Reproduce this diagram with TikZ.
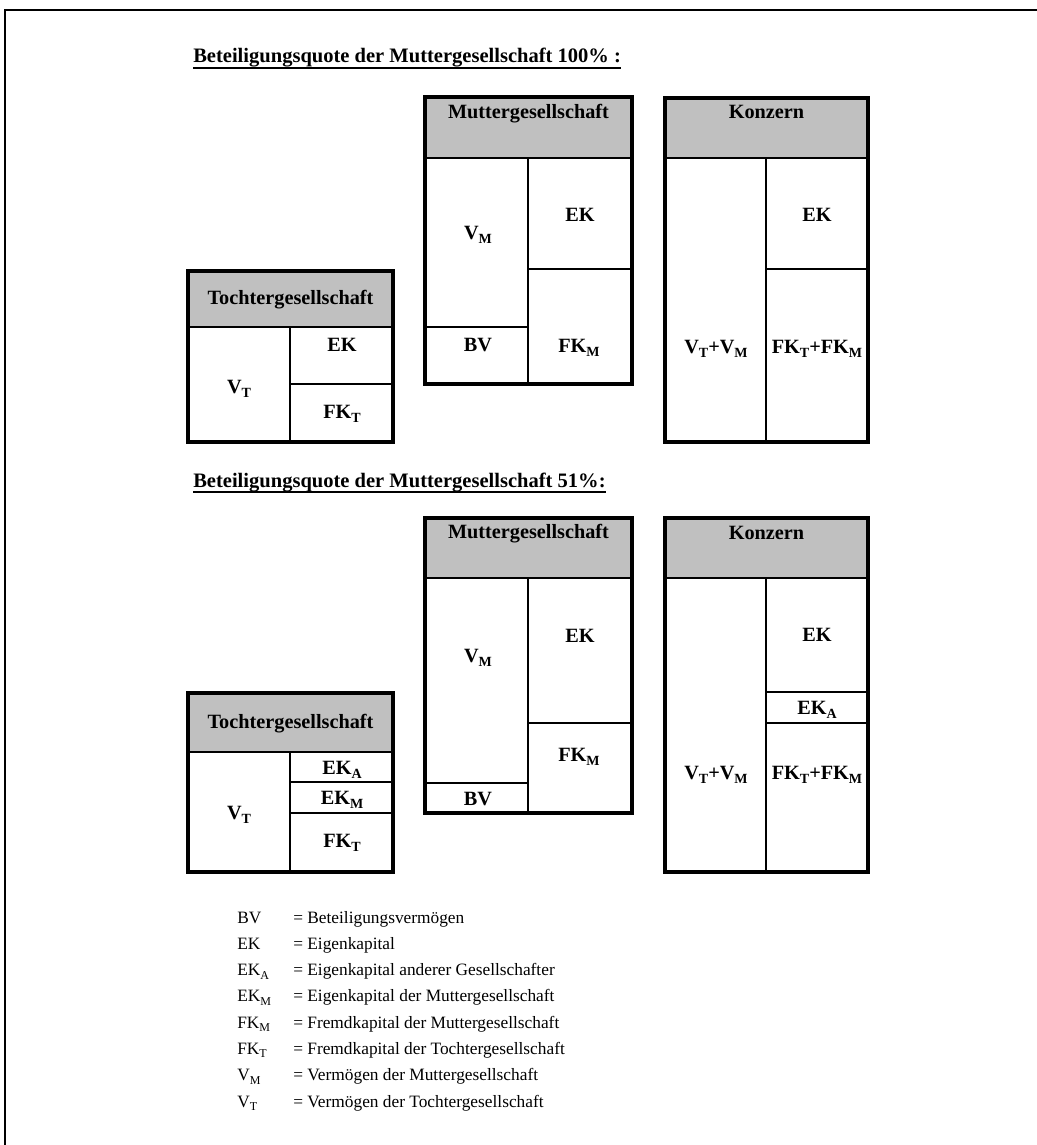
\documentclass[tikz,border=0pt]{standalone}
\usepackage{fontspec}
\setmainfont{Liberation Serif}
\definecolor{hdr}{HTML}{C0C0C0}
\newcommand\bsub[1]{\raisebox{-0.2em}{\fontsize{10.5}{11}\selectfont #1}}
\newcommand\rsub[1]{\raisebox{-0.2em}{\fontsize{9}{10}\selectfont #1}}
\tikzset{
  outerbox/.style={line width=2.3pt},
  innerline/.style={line width=1.2pt},
  hdrline/.style={line width=1.5pt},
  lab/.style={font=\fontsize{15.2}{18}\selectfont\bfseries, inner sep=0pt, anchor=center},
  ttl/.style={font=\fontsize{15.4}{18}\selectfont\bfseries, inner sep=0pt, anchor=base west},
  leg/.style={font=\fontsize{13}{15}\selectfont, inner sep=0pt, anchor=base west},
}
\begin{document}
\begin{tikzpicture}[x=0.75pt,y=-0.75pt]
\useasboundingbox (0,0) rectangle (1037,1145);
% frame
\coordinate (fbl) at (5,1145);
\coordinate (ftl) at (5,10);
\coordinate (ftr) at (1037,10);
\draw[line width=1.5pt] (fbl) -- (ftl) -- (ftr);

% ---------- titles ----------
\node[ttl] (t1) at (193,63) {Beteiligungsquote der Muttergesellschaft 100\% :};
\draw[line width=1.1pt] ([yshift=-3.6pt]t1.base west) -- ([yshift=-3.6pt]t1.base east);
\node[ttl] (t2) at (193,487) {Beteiligungsquote der Muttergesellschaft 51\%:};
\draw[line width=1.1pt] ([yshift=-3.6pt]t2.base west) -- ([yshift=-3.6pt]t2.base east);

% ---------- top: Tochter ----------
\fill[hdr] (188,271) rectangle (393,327);
\draw[hdrline] (188,327) -- (393,327);
\draw[innerline] (290,327) -- (290,442);
\draw[innerline] (290,384) -- (393,384);
\draw[outerbox] (188,271) rectangle (393,442);
\node[lab] (tt1) at (290.5,300) {Tochtergesellschaft};
\node[lab] (tv1) at (239,389) {V\bsub{T}};
\node[lab] (tek1) at (342,345) {EK};
\node[lab] (tfk1) at (342,414) {FK\bsub{T}};

% ---------- top: Mutter ----------
\fill[hdr] (425,97) rectangle (632,158);
\draw[hdrline] (425,158) -- (632,158);
\draw[innerline] (528,158) -- (528,384);
\draw[innerline] (528,269) -- (632,269);
\draw[innerline] (425,327) -- (528,327);
\draw[outerbox] (425,97) rectangle (632,384);
\node[lab] (mt1) at (528.5,114) {Muttergesellschaft};
\node[lab] (mv1) at (478,235) {V\bsub{M}};
\node[lab] (mek1) at (580,215) {EK};
\node[lab] (mbv1) at (478,345) {BV};
\node[lab] (mfk1) at (579,348) {FK\bsub{M}};

% ---------- top: Konzern ----------
\fill[hdr] (665,98) rectangle (868,158);
\draw[hdrline] (665,158) -- (868,158);
\draw[innerline] (766,158) -- (766,442);
\draw[innerline] (766,269) -- (868,269);
\draw[outerbox] (665,98) rectangle (868,442);
\node[lab] (kt1) at (766.5,112) {Konzern};
\node[lab] (kv1) at (716,349) {V\bsub{T}+V\bsub{M}};
\node[lab] (kek1) at (817,215) {EK};
\node[lab] (kfk1) at (817,349) {FK\bsub{T}+FK\bsub{M}};

% ---------- bottom: Tochter ----------
\fill[hdr] (188,693) rectangle (393,752);
\draw[hdrline] (188,752) -- (393,752);
\draw[innerline] (290,752) -- (290,872);
\draw[innerline] (290,782) -- (393,782);
\draw[innerline] (290,813) -- (393,813);
\draw[outerbox] (188,693) rectangle (393,872);
\node[lab] (tt2) at (290.5,724) {Tochtergesellschaft};
\node[lab] (tv2) at (239,815) {V\bsub{T}};
\node[lab] (teka2) at (342,770) {EK\bsub{A}};
\node[lab] (tekm2) at (342,800) {EK\bsub{M}};
\node[lab] (tfk2) at (342,843) {FK\bsub{T}};

% ---------- bottom: Mutter ----------
\fill[hdr] (425,518) rectangle (632,578);
\draw[hdrline] (425,578) -- (632,578);
\draw[innerline] (528,578) -- (528,813);
\draw[innerline] (528,723) -- (632,723);
\draw[innerline] (425,783) -- (528,783);
\draw[outerbox] (425,518) rectangle (632,813);
\node[lab] (mt2) at (528.5,534) {Muttergesellschaft};
\node[lab] (mv2) at (478,658) {V\bsub{M}};
\node[lab] (mek2) at (580,636) {EK};
\node[lab] (mfk2) at (579,757) {FK\bsub{M}};
\node[lab] (mbv2) at (478,799) {BV};

% ---------- bottom: Konzern ----------
\fill[hdr] (665,518) rectangle (868,578);
\draw[hdrline] (665,578) -- (868,578);
\draw[innerline] (766,578) -- (766,872);
\draw[innerline] (766,692) -- (868,692);
\draw[innerline] (766,723) -- (868,723);
\draw[outerbox] (665,518) rectangle (868,872);
\node[lab] (kt2) at (766.5,533) {Konzern};
\node[lab] (kek2) at (817,635) {EK};
\node[lab] (keka2) at (817,710) {EK\bsub{A}};
\node[lab] (kv2) at (716,775) {V\bsub{T}+V\bsub{M}};
\node[lab] (kfk2) at (817,775) {FK\bsub{T}+FK\bsub{M}};

% ---------- legend ----------
\node[leg] (l1a) at (237,923) {BV};
\node[leg] (l1b) at (293,923) {= Beteiligungsvermögen};
\node[leg] (l2a) at (237,949.3) {EK};
\node[leg] (l2b) at (293,949.3) {= Eigenkapital};
\node[leg] (l3a) at (237,975.6) {EK\rsub{A}};
\node[leg] (l3b) at (293,975.6) {= Eigenkapital anderer Gesellschafter};
\node[leg] (l4a) at (237,1001.9) {EK\rsub{M}};
\node[leg] (l4b) at (293,1001.9) {= Eigenkapital der Muttergesellschaft};
\node[leg] (l5a) at (237,1028.2) {FK\rsub{M}};
\node[leg] (l5b) at (293,1028.2) {= Fremdkapital der Muttergesellschaft};
\node[leg] (l6a) at (237,1054.5) {FK\rsub{T}};
\node[leg] (l6b) at (293,1054.5) {= Fremdkapital der Tochtergesellschaft};
\node[leg] (l7a) at (237,1080.8) {V\rsub{M}};
\node[leg] (l7b) at (293,1080.8) {= Vermögen der Muttergesellschaft};
\node[leg] (l8a) at (237,1107.1) {V\rsub{T}};
\node[leg] (l8b) at (293,1107.1) {= Vermögen der Tochtergesellschaft};
\end{tikzpicture}
\end{document}
